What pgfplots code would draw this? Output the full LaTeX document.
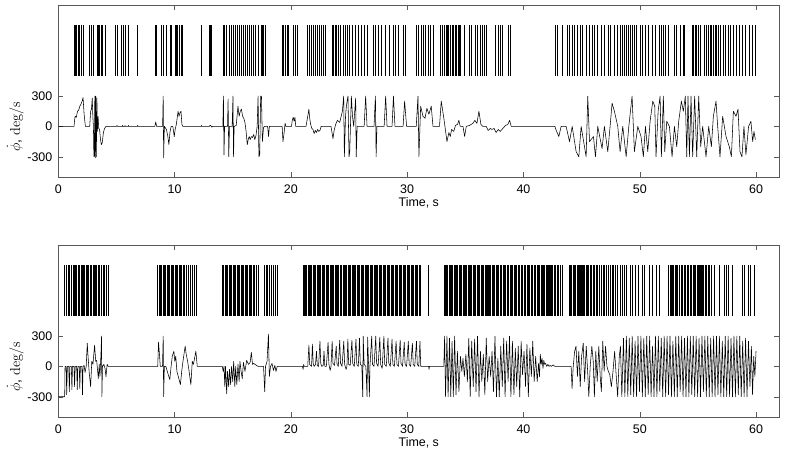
\documentclass[border=0pt]{standalone}
\usepackage[no-math]{fontspec}
\setmainfont{Liberation Sans}
\usepackage{pgfplots}
\usepackage{pgfplotstable}
\pgfplotsset{compat=1.18}

\definecolor{frameGray}{RGB}{90,90,90}

% spike times (s); each spike is a bar from 500 to 1000
\pgfplotstableread[row sep=\\]{t y\\
1.35 500\\1.46 500\\1.58 500\\1.75 500\\1.86 500\\2.03 500\\2.15 500\\2.72 500\\2.89 500\\3.01 500\\
3.35 500\\3.47 500\\3.58 500\\3.69 500\\3.81 500\\4.04 500\\4.95 500\\5.07 500\\5.47 500\\5.64 500\\
5.81 500\\5.99 500\\6.79 500\\8.33 500\\8.45 500\\8.91 500\\9.08 500\\9.31 500\\9.65 500\\9.77 500\\
10.05 500\\10.17 500\\10.28 500\\10.45 500\\10.57 500\\10.68 500\\12.29 500\\12.97 500\\13.09 500\\
13.20 500\\14.18 500\\14.29 500\\14.46 500\\14.69 500\\14.86 500\\15.03 500\\15.21 500\\15.38 500\\
15.55 500\\15.72 500\\15.89 500\\16.07 500\\16.24 500\\16.47 500\\16.64 500\\16.81 500\\16.98 500\\
17.21 500\\17.44 500\\17.55 500\\17.67 500\\17.84 500\\19.27 500\\19.39 500\\19.50 500\\19.67 500\\
19.79 500\\20.19 500\\20.42 500\\20.59 500\\21.45 500\\21.56 500\\21.74 500\\21.91 500\\22.08 500\\
22.25 500\\22.42 500\\22.59 500\\22.77 500\\22.94 500\\23.57 500\\23.68 500\\23.80 500\\23.91 500\\
24.08 500\\24.26 500\\24.48 500\\24.66 500\\24.89 500\\25.06 500\\25.29 500\\25.52 500\\25.80 500\\
26.09 500\\26.32 500\\26.60 500\\27.06 500\\27.29 500\\27.52 500\\27.81 500\\28.15 500\\28.44 500\\
28.78 500\\29.01 500\\29.24 500\\29.64 500\\29.81 500\\30.84 500\\31.01 500\\31.19 500\\31.36 500\\
31.53 500\\31.87 500\\32.04 500\\32.22 500\\32.85 500\\33.02 500\\33.19 500\\33.36 500\\33.48 500\\
33.59 500\\33.71 500\\33.88 500\\34.00 500\\34.11 500\\34.28 500\\34.40 500\\34.51 500\\34.62 500\\
34.91 500\\35.37 500\\35.54 500\\35.89 500\\36.06 500\\36.28 500\\36.45 500\\36.63 500\\36.80 500\\
37.60 500\\37.83 500\\38.06 500\\38.23 500\\38.75 500\\38.92 500\\42.76 500\\42.93 500\\43.33 500\\
43.79 500\\43.96 500\\44.19 500\\44.42 500\\44.65 500\\44.88 500\\45.10 500\\45.39 500\\45.68 500\\
45.91 500\\46.08 500\\46.36 500\\46.71 500\\46.94 500\\47.28 500\\47.51 500\\47.85 500\\48.08 500\\
48.37 500\\48.54 500\\48.71 500\\48.88 500\\49.06 500\\49.23 500\\49.40 500\\49.57 500\\49.74 500\\
50.03 500\\50.20 500\\50.49 500\\50.72 500\\51.06 500\\51.35 500\\51.69 500\\51.86 500\\52.03 500\\
52.20 500\\52.43 500\\53.01 500\\53.18 500\\53.52 500\\53.75 500\\53.87 500\\54.50 500\\54.61 500\\
54.78 500\\54.90 500\\55.07 500\\55.24 500\\55.53 500\\55.70 500\\55.87 500\\56.04 500\\56.16 500\\
56.33 500\\56.50 500\\56.62 500\\56.79 500\\56.96 500\\57.19 500\\57.36 500\\57.59 500\\57.76 500\\
58.05 500\\58.28 500\\58.56 500\\58.85 500\\59.13 500\\59.42 500\\59.71 500\\59.94 500\\
}\spikesTop

\pgfplotstableread[row sep=\\]{t y\\
0.57 500\\0.70 500\\0.84 500\\0.97 500\\1.12 500\\1.26 500\\1.37 500\\1.49 500\\1.60 500\\1.72 500\\
1.83 500\\1.95 500\\2.06 500\\2.17 500\\2.29 500\\2.40 500\\2.52 500\\2.63 500\\2.75 500\\2.86 500\\
2.98 500\\3.09 500\\3.20 500\\3.32 500\\3.43 500\\3.55 500\\3.69 500\\3.84 500\\3.98 500\\4.12 500\\
4.27 500\\8.56 500\\8.68 500\\8.79 500\\8.91 500\\9.02 500\\9.14 500\\9.25 500\\9.37 500\\9.48 500\\
9.59 500\\9.71 500\\9.82 500\\9.94 500\\10.05 500\\10.17 500\\10.28 500\\10.40 500\\10.51 500\\
10.62 500\\10.74 500\\10.85 500\\11.02 500\\11.20 500\\11.37 500\\11.54 500\\11.71 500\\11.88 500\\
14.12 500\\14.23 500\\14.35 500\\14.46 500\\14.58 500\\14.69 500\\14.80 500\\14.92 500\\15.03 500\\
15.15 500\\15.26 500\\15.38 500\\15.49 500\\15.61 500\\15.72 500\\15.83 500\\15.95 500\\16.06 500\\
16.18 500\\16.29 500\\16.41 500\\16.52 500\\16.64 500\\16.75 500\\16.86 500\\17.01 500\\17.18 500\\
17.75 500\\17.90 500\\18.01 500\\18.18 500\\18.36 500\\18.53 500\\18.70 500\\18.81 500\\
21.05 500\\21.16 500\\21.25 500\\21.38 500\\21.47 500\\21.58 500\\21.70 500\\21.79 500\\21.92 500\\
22.03 500\\22.12 500\\22.25 500\\22.36 500\\22.45 500\\22.58 500\\22.69 500\\22.80 500\\22.90 500\\
23.02 500\\23.14 500\\23.23 500\\23.36 500\\23.47 500\\23.56 500\\23.68 500\\23.80 500\\23.91 500\\
24.03 500\\24.13 500\\24.24 500\\24.37 500\\24.48 500\\24.57 500\\24.70 500\\24.81 500\\24.92 500\\
25.03 500\\25.14 500\\25.26 500\\25.36 500\\25.48 500\\25.59 500\\25.70 500\\25.80 500\\25.92 500\\
26.03 500\\26.15 500\\26.25 500\\26.37 500\\26.48 500\\26.59 500\\26.70 500\\26.81 500\\26.92 500\\
27.04 500\\27.15 500\\27.26 500\\27.37 500\\27.48 500\\27.60 500\\27.71 500\\27.82 500\\27.93 500\\
28.05 500\\28.17 500\\28.28 500\\28.39 500\\28.50 500\\28.62 500\\28.73 500\\28.84 500\\28.96 500\\
29.08 500\\29.19 500\\29.30 500\\29.42 500\\29.53 500\\29.65 500\\29.76 500\\29.87 500\\29.99 500\\
30.10 500\\30.22 500\\30.33 500\\30.44 500\\30.56 500\\30.67 500\\30.79 500\\30.90 500\\31.02 500\\
31.13 500\\31.87 500\\
33.22 500\\33.30 500\\33.41 500\\33.50 500\\33.62 500\\33.70 500\\33.78 500\\33.85 500\\33.92 500\\
34.05 500\\34.14 500\\34.26 500\\34.35 500\\34.48 500\\34.58 500\\34.70 500\\34.80 500\\34.91 500\\
35.02 500\\35.14 500\\35.23 500\\35.36 500\\35.45 500\\35.57 500\\35.68 500\\35.79 500\\35.90 500\\
36.02 500\\36.14 500\\36.25 500\\36.38 500\\36.48 500\\36.60 500\\36.70 500\\36.82 500\\36.90 500\\
36.98 500\\37.06 500\\37.18 500\\37.30 500\\37.42 500\\37.53 500\\37.65 500\\37.77 500\\37.88 500\\
38.00 500\\38.12 500\\38.24 500\\38.36 500\\38.48 500\\38.60 500\\38.72 500\\38.84 500\\38.96 500\\
39.08 500\\39.20 500\\39.32 500\\39.44 500\\39.56 500\\39.68 500\\39.80 500\\39.93 500\\40.05 500\\
40.17 500\\40.30 500\\40.42 500\\40.55 500\\40.67 500\\40.80 500\\40.92 500\\41.04 500\\41.16 500\\
41.28 500\\41.40 500\\41.52 500\\41.64 500\\41.74 500\\41.84 500\\41.94 500\\42.02 500\\42.10 500\\
42.18 500\\42.26 500\\42.34 500\\42.42 500\\42.52 500\\42.64 500\\42.76 500\\42.90 500\\43.04 500\\
43.20 500\\43.38 500\\
43.96 500\\44.06 500\\44.15 500\\44.26 500\\44.38 500\\44.50 500\\44.60 500\\44.70 500\\44.78 500\\
44.86 500\\44.95 500\\45.05 500\\45.15 500\\45.25 500\\45.38 500\\45.50 500\\45.62 500\\45.74 500\\
45.86 500\\45.98 500\\46.12 500\\46.26 500\\46.40 500\\46.55 500\\46.70 500\\46.85 500\\47.00 500\\
47.15 500\\47.30 500\\47.45 500\\47.62 500\\47.78 500\\47.95 500\\48.12 500\\48.30 500\\48.50 500\\
48.70 500\\48.88 500\\49.17 500\\49.40 500\\49.63 500\\49.91 500\\50.20 500\\50.43 500\\50.83 500\\
51.12 500\\51.40 500\\51.69 500\\
52.49 500\\52.60 500\\52.72 500\\52.83 500\\52.92 500\\53.03 500\\53.15 500\\53.28 500\\53.42 500\\
53.55 500\\53.68 500\\53.82 500\\53.95 500\\54.08 500\\54.20 500\\54.32 500\\54.45 500\\54.58 500\\
54.70 500\\54.82 500\\54.95 500\\55.05 500\\55.14 500\\55.23 500\\55.32 500\\55.42 500\\55.52 500\\
55.62 500\\55.75 500\\55.88 500\\56.00 500\\56.13 500\\56.45 500\\56.85 500\\57.25 500\\57.42 500\\
57.65 500\\57.94 500\\58.79 500\\59.02 500\\59.31 500\\59.48 500\\59.88 500\\
}\spikesBottom

\pgfplotsset{
  panel/.style={
    width=721bp, height=172bp, scale only axis,
    xmin=0, xmax=62, ymin=-500, ymax=1200,
    xtick={0,10,20,30,40,50,60}, ytick={-300,0,300},
    major tick length=5bp,
    tick style={color=frameGray, line width=0.5bp},
    axis line style={frameGray, line width=0.6bp},
    tick label style={font=\fontsize{12.5}{14}\selectfont},
    /pgf/number format/assume math mode=true,
    xticklabel style={yshift=-4.5bp},
    yticklabel style={xshift=-2.5bp},
    xlabel={Time, s},
    xlabel style={font=\fontsize{12.5}{14}\selectfont,
      at={(axis description cs:0.5,0)}, anchor=center, yshift=-26bp},
    ylabel={$\dot{\phi}$, $\mathrm{deg/s}$},
    ylabel style={font=\fontsize{14}{16}\selectfont,
      at={(axis description cs:-0.0596,0.294)}, anchor=center},
  },
  spikes/.style={black, line width=0.9bp, quiver={u=0, v=500}},
  trace/.style={black, line width=0.55bp, line join=round},
}

\begin{document}
\begin{tikzpicture}
\path[use as bounding box] (-58.3bp,-275bp) rectangle (726.7bp,177bp);

% ---- top panel
\begin{axis}[panel, at={(0,0)}, anchor=south west]
\addplot[spikes] table[x=t, y=y] {\spikesTop};
\addplot[trace] coordinates {
(0,0) (1.35,0) (1.40,60) (1.45,100) (1.55,90) (1.65,150) (1.75,160) (1.85,200)
(1.95,220) (2.05,250) (2.13,285) (2.22,120) (2.33,0) (2.70,0) (2.78,150) (2.85,170)
(2.92,280) (2.97,100) (3.02,0) (3.06,-300) (3.10,-290) (3.14,300) (3.18,-310)
(3.22,300) (3.27,-300) (3.32,280) (3.36,-50) (3.42,100) (3.48,-20) (3.55,-30)
(3.62,-120) (3.70,-180) (3.78,-160) (3.88,-60) (3.98,-20) (4.10,0)
(5.00,0) (5.05,10) (5.10,0) (5.50,0) (5.53,10) (5.56,0) (5.70,0) (5.73,10) (5.76,0)
(6.00,0) (6.03,10) (6.06,0) (6.80,0) (6.83,12) (6.86,0)
(8.30,0) (8.38,45) (8.45,0) (8.97,0) (9.02,300) (9.06,-310) (9.12,0) (9.30,-30)
(9.42,-100) (9.51,-180) (9.60,-60) (9.70,0) (9.85,0) (9.97,-100) (10.05,-30)
(10.15,20) (10.30,150) (10.38,100) (10.45,130) (10.55,150) (10.63,20) (10.72,0)
(12.27,0) (12.30,10) (12.33,0) (13.00,0) (13.05,12) (13.12,5) (13.20,-8) (13.25,0)
(14.15,0) (14.20,300) (14.25,-280) (14.30,0) (14.55,0) (14.60,270) (14.66,-300)
(14.72,0) (14.95,0) (15.02,300) (15.07,-300) (15.12,0) (15.30,10) (15.45,200)
(15.55,100) (15.65,150) (15.75,170) (15.85,100) (15.95,80) (16.05,40) (16.15,-50)
(16.25,-180) (16.35,-120) (16.42,-100) (16.50,-130) (16.60,-100) (16.70,-110)
(16.80,-80) (16.90,-130) (17.00,-90) (17.10,0) (17.18,300) (17.25,-300) (17.32,-280)
(17.40,300) (17.47,300) (17.55,-150) (17.65,-10) (17.75,0) (18.00,0) (18.08,-100)
(18.15,0) (19.25,0) (19.32,-150) (19.42,-60) (19.50,30) (19.58,0) (20.05,0)
(20.12,60) (20.20,90) (20.28,50) (20.35,90) (20.42,0) (21.30,0) (21.45,100)
(21.55,170) (21.62,80) (21.70,20) (21.80,-20) (21.90,-30) (22.00,-70) (22.10,-40)
(22.20,-60) (22.30,-30) (22.40,-50) (22.50,-40) (22.60,0) (23.45,0) (23.62,-120)
(23.72,-40) (23.85,20) (24.00,60) (24.20,40) (24.43,150) (24.54,300) (24.60,-300)
(24.70,100) (24.77,200) (24.91,300) (25.00,-300) (25.06,-250) (25.20,300)
(25.30,100) (25.40,0) (25.57,280) (25.62,-300) (25.70,0) (26.30,0) (26.43,300)
(26.55,0) (27.15,0) (27.27,300) (27.33,-300) (27.40,0) (28.02,0) (28.15,300)
(28.27,0) (28.70,0) (28.82,300) (28.95,0) (29.65,0) (29.78,250) (29.95,0)
(30.78,0) (30.93,300) (31.01,-300) (31.16,200) (31.36,100) (31.53,80) (31.70,180)
(31.87,120) (32.07,200) (32.22,0) (32.78,0) (32.93,250) (33.13,100) (33.25,0)
(33.42,-150) (33.59,-60) (33.71,-100) (33.82,-30) (34.00,-50) (34.16,10) (34.33,20)
(34.45,60) (34.56,0) (34.80,0) (34.94,-100) (35.08,0) (35.37,10) (35.65,30)
(35.82,60) (36.00,30) (36.17,150) (36.34,20) (36.52,0) (36.80,0) (36.97,-40)
(37.14,-20) (37.31,-30) (37.48,-20) (37.65,-60) (37.83,-30) (38.00,-50) (38.23,-20)
(38.46,10) (38.66,20) (38.81,60) (38.95,0)
(42.70,0) (42.82,-40) (43.04,-100) (43.24,0) (43.67,0) (43.96,-150) (44.19,0)
(44.53,-250) (44.76,-300) (44.96,0) (45.39,-300) (45.53,300) (45.68,-150)
(46.02,-100) (46.19,-300) (46.39,0) (46.76,-220) (46.96,0) (47.25,-250) (47.45,0)
(47.62,230) (47.82,150) (48.11,0) (48.31,-250) (48.54,0) (48.83,-300) (49.06,0)
(49.34,300) (49.54,-250) (49.83,0) (50.11,-100) (50.31,-300) (50.49,0) (50.69,-250)
(50.89,50) (51.12,250) (51.29,200) (51.40,-300) (51.58,150) (51.75,300) (51.86,-300)
(52.03,300) (52.15,-250) (52.32,50) (52.55,0) (52.78,-300) (52.98,0) (53.18,-200)
(53.35,50) (53.58,250) (53.75,150) (53.92,300) (54.04,-300) (54.15,300) (54.27,-300)
(54.41,300) (54.55,-300) (54.72,300) (54.90,-300) (55.07,300) (55.24,-200) (55.41,0)
(55.70,-300) (55.93,0) (56.16,-200) (56.33,100) (56.56,250) (56.70,0) (56.90,-300)
(57.13,100) (57.42,-100) (57.70,-200) (57.88,-300) (58.05,150) (58.28,100)
(58.45,170) (58.62,-250) (58.79,-300) (58.96,0) (59.13,-280) (59.36,0) (59.56,50)
(59.71,-150) (59.82,-50) (59.94,-130)
};
\end{axis}

% ---- bottom panel
\begin{axis}[panel, at={(0,-240bp)}, anchor=south west]
\addplot[spikes] table[x=t, y=y] {\spikesBottom};
\addplot[trace] coordinates {
(0,-300) (0.55,-300) (0.58,0) (0.68,0) (0.72,-280) (0.78,0) (0.90,0) (0.95,-250)
(1.00,0) (1.12,0) (1.17,-230) (1.22,0) (1.35,0) (1.40,-200) (1.45,0) (1.58,0)
(1.63,-230) (1.68,0) (1.80,0) (1.85,-220) (1.90,0) (2.03,0) (2.08,-280) (2.13,0)
(2.22,10) (2.30,-60) (2.40,0) (2.49,230) (2.56,100) (2.65,-50) (2.78,-200)
(2.88,50) (2.98,20) (3.12,210) (3.22,50) (3.30,60) (3.44,-120) (3.52,20)
(3.58,-100) (3.66,100) (3.72,300) (3.75,-300) (3.80,0) (3.92,20) (4.02,-20)
(4.10,-100) (4.20,20) (4.30,0)
(8.55,0) (8.62,240) (8.70,120) (8.77,0) (8.96,0) (9.02,300) (9.06,-300) (9.12,0)
(9.25,0) (9.40,-60) (9.59,-130) (9.70,0) (9.80,100) (9.94,150) (10.02,50)
(10.10,100) (10.20,-50) (10.32,-100) (10.50,-180) (10.62,-40) (10.72,50)
(10.91,200) (11.00,120) (11.12,50) (11.25,-50) (11.40,-180) (11.52,50) (11.62,20)
(11.83,150) (11.95,0)
(14.10,0) (14.18,-50) (14.25,0) (14.32,-200) (14.38,0) (14.48,-270) (14.55,-50)
(14.65,-200) (14.72,-30) (14.82,-180) (14.90,0) (15.00,-150) (15.08,50)
(15.18,-200) (15.25,0) (15.35,-180) (15.45,20) (15.55,-150) (15.62,50)
(15.72,-50) (15.82,-120) (15.92,40) (16.05,-50) (16.20,60) (16.35,20)
(16.50,40) (16.60,140) (16.70,20) (16.80,30) (16.92,20) (17.05,10) (17.18,0)
(17.65,0) (17.75,-250) (17.82,0) (17.95,50) (18.07,320) (18.15,-100) (18.25,0)
(18.38,30) (18.50,-40) (18.62,10) (18.72,-50) (18.82,0)
(21.00,0) (21.05,-30) (21.10,20) (21.15,0) (21.45,0) (21.55,210) (21.62,20)
(21.70,10) (21.78,0) (21.85,220) (21.92,30) (22.00,0) (22.12,20) (22.20,150)
(22.27,10) (22.38,0) (22.50,250) (22.57,30) (22.65,0) (22.78,10) (22.85,150)
(22.92,0) (23.05,0) (23.20,240) (23.27,20) (23.38,-40) (23.45,0) (23.55,250)
(23.62,30) (23.75,10) (23.90,200) (23.97,20) (24.08,0) (24.20,260) (24.27,30)
(24.40,0) (24.55,250) (24.62,20) (24.75,-30) (24.82,0) (24.90,270) (24.97,20)
(25.10,10) (25.25,260) (25.32,30) (25.45,0) (25.60,270) (25.67,20) (25.80,0)
(25.90,280) (25.97,20) (26.10,10) (26.18,-300) (26.22,300) (26.30,20) (26.45,0)
(26.55,-300) (26.60,290) (26.68,20) (26.75,-300) (26.80,0) (26.95,300) (27.02,20)
(27.15,0) (27.30,300) (27.37,30) (27.50,0) (27.65,290) (27.72,20) (27.85,-20)
(28.00,300) (28.07,20) (28.20,0) (28.35,280) (28.42,30) (28.55,0) (28.70,270)
(28.77,20) (28.90,0) (29.05,250) (29.12,20) (29.25,0) (29.40,260) (29.47,30)
(29.60,0) (29.75,240) (29.82,20) (29.95,0) (30.10,250) (30.17,20) (30.30,0)
(30.45,230) (30.52,20) (30.65,0) (30.80,250) (30.87,20) (31.00,0) (31.10,250)
(31.17,0) (31.85,0) (31.88,-30) (31.92,0)
(33.15,0) (33.22,300) (33.30,-300) (33.42,300) (33.52,-300) (33.64,280)
(33.75,-300) (33.86,250) (33.97,-300) (34.08,300) (34.20,-280) (34.32,150)
(34.45,-250) (34.58,100) (34.70,-50) (34.80,80) (34.92,-100) (35.05,120)
(35.18,-150) (35.30,280) (35.42,-300) (35.55,250) (35.68,-200) (35.80,270)
(35.92,-250) (36.05,300) (36.18,-300) (36.30,150) (36.42,-150) (36.55,120)
(36.68,-280) (36.80,280) (36.92,-150) (37.05,100) (37.18,-100) (37.30,150)
(37.42,-250) (37.55,300) (37.68,-300) (37.80,80) (37.92,-300) (38.05,200)
(38.18,-200) (38.30,280) (38.42,-300) (38.55,250) (38.68,-150) (38.80,300)
(38.92,-300) (39.05,250) (39.18,-280) (39.30,180) (39.42,-200) (39.55,200)
(39.68,-300) (39.80,250) (39.92,-80) (40.05,150) (40.18,-200) (40.30,220)
(40.42,-300) (40.55,180) (40.68,-100) (40.80,250) (40.92,-150) (41.05,100)
(41.18,-150) (41.30,30) (41.38,-100) (41.45,120) (41.52,20) (41.60,80) (41.68,-20)
(41.75,60) (41.82,20) (41.90,30) (42.00,0) (42.10,20) (42.20,0) (42.30,10)
(42.40,0) (42.55,15) (42.70,0)
(44.10,0) (44.18,-220) (44.28,0) (44.40,150) (44.52,200) (44.64,-100) (44.76,150)
(44.88,-200) (45.00,100) (45.14,230) (45.26,-150) (45.40,200) (45.52,-50)
(45.62,-300) (45.74,0) (45.88,200) (46.00,50) (46.10,-300) (46.22,150)
(46.34,-150) (46.48,200) (46.60,-100) (46.70,-250) (46.82,250) (46.94,-50)
(47.06,200) (47.18,0) (47.30,-50) (47.42,-80) (47.56,-200) (47.70,-50) (47.84,150)
(47.98,-100) (48.10,-300) (48.24,100) (48.34,200) (48.46,-300) (48.60,280)
(48.72,-300)
(48.850,300) (48.975,-300) (49.100,280) (49.225,-280) (49.350,300) (49.475,-300)
(49.600,250) (49.725,-300) (49.850,300) (49.975,-250) (50.100,300) (50.225,-300)
(50.350,280) (50.475,-300) (50.600,300) (50.725,-280) (50.850,300) (50.975,-300)
(51.100,200) (51.225,-300) (51.350,300) (51.475,-300) (51.600,300) (51.725,-250)
(51.850,280) (51.975,-300) (52.100,300) (52.225,-300) (52.350,300) (52.475,-280)
(52.600,300) (52.725,-300) (52.850,250) (52.975,-300) (53.100,300) (53.225,-300)
(53.350,300) (53.475,-250) (53.600,300) (53.725,-300) (53.850,280) (53.975,-300)
(54.100,300) (54.225,-300) (54.350,300) (54.475,-280) (54.600,300) (54.725,-300)
(54.850,300) (54.975,-300) (55.100,280) (55.225,-300) (55.350,300) (55.475,-250)
(55.600,300) (55.725,-300) (55.850,300) (55.975,-300) (56.100,280) (56.225,-300)
(56.350,300) (56.475,-300) (56.600,300) (56.725,-280) (56.850,300) (56.975,-300)
(57.100,250) (57.225,-300) (57.350,300) (57.475,-300) (57.600,300) (57.725,-300)
(57.850,280) (57.975,-300) (58.100,300) (58.225,-300) (58.350,300) (58.475,-280)
(58.600,300) (58.725,-300) (58.850,250) (58.975,-300) (59.100,280) (59.225,-300)
(59.350,250) (59.475,-200) (59.600,200) (59.700,-280) (59.800,100) (59.900,-100)
(60.000,150)
};
\end{axis}
\end{tikzpicture}
\end{document}
